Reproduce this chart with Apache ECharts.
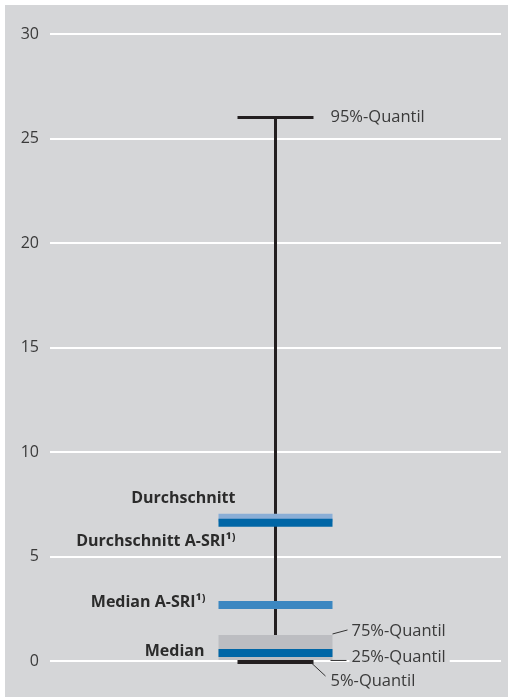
<!DOCTYPE html>
<html><head><meta charset="utf-8">
<script src="https://cdn.jsdelivr.net/npm/echarts@6/dist/echarts.min.js"></script>
<style>html,body{margin:0;padding:0;background:#fff}#c{width:508px;height:697px}</style>
</head><body><div id="c"></div>
<script>
const yTicks = [0, 5, 10, 15, 20, 25, 30];
const quantileLabels = ['5%-Quantil', '25%-Quantil', '75%-Quantil', '95%-Quantil'];
const quantileValues = [-0.05, 0.05, 1.245, 26.0];
const barLabels = ['Median', 'Median A-SRI¹⁾', 'Durchschnitt', 'Durchschnitt A-SRI¹⁾'];
const barValues = [0.38, 2.68, 6.85, 6.61];
const barColors = ['#0066a6', '#3b87c1', '#8aaed6', '#0066a6'];

const FONT = 'Open Sans';
const BG = '#d5d6d8';
const TXT = '#3a3a3a';

const chart = echarts.init(document.getElementById('c'), null, {renderer: 'canvas'});

function renderItem(params, api) {
  const cx = api.coord([0, 0])[0];
  const y = v => api.coord([0, v])[1];
  const [p5, p25, p75, p95] = quantileValues;
  const boxHalf = 57, capHalf = 38, barH = 8;
  const ch = [];
  ch.push({type: 'line', shape: {x1: cx, y1: y(p95), x2: cx, y2: y(p5)}, style: {stroke: '#231f20', lineWidth: 3}});
  ch.push({type: 'line', shape: {x1: cx - capHalf, y1: y(p95), x2: cx + capHalf, y2: y(p95)}, style: {stroke: '#231f20', lineWidth: 3}});
  ch.push({type: 'line', shape: {x1: cx - capHalf, y1: y(p5), x2: cx + capHalf, y2: y(p5)}, style: {stroke: '#231f20', lineWidth: 4}});
  ch.push({type: 'rect', shape: {x: cx - boxHalf, y: y(p75), width: boxHalf * 2, height: y(p25) - y(p75)}, style: {fill: '#bcbdc1'}});
  barValues.forEach((v, i) => {
    const yy = y(v);
    ch.push({type: 'rect', shape: {x: cx - boxHalf, y: yy - barH / 2, width: boxHalf * 2, height: barH}, style: {fill: barColors[i]}});
  });
  const leftOffsets = [[-71, -2], [-70, -3], [-40, -19], [-40, 19]];
  barLabels.forEach((t, i) => {
    const yy = y(barValues[i]);
    ch.push({type: 'text', style: {text: t, x: cx + leftOffsets[i][0], y: yy + leftOffsets[i][1], align: 'right', verticalAlign: 'middle', font: 'bold 16px "' + FONT + '"', fill: '#2b2b2b'}});
  });
  ch.push({type: 'text', style: {text: quantileLabels[3], x: cx + 55, y: y(p95), align: 'left', verticalAlign: 'middle', font: '16.5px "' + FONT + '"', fill: TXT}});
  ch.push({type: 'line', shape: {x1: cx + boxHalf, y1: y(p75) - 1, x2: cx + boxHalf + 15, y2: y(p75) - 5}, style: {stroke: '#333', lineWidth: 1}});
  ch.push({type: 'text', style: {text: quantileLabels[2], x: cx + 76, y: y(p75) - 4, align: 'left', verticalAlign: 'middle', font: '16.5px "' + FONT + '"', fill: TXT}});
  ch.push({type: 'line', shape: {x1: cx + boxHalf - 2, y1: y(p25) + 0.5, x2: cx + boxHalf + 14, y2: y(p25) + 0.5}, style: {stroke: '#333', lineWidth: 1}});
  ch.push({type: 'text', style: {text: quantileLabels[1], x: cx + 74, y: y(p25) - 3, align: 'left', verticalAlign: 'middle', font: '16.5px "' + FONT + '"', fill: TXT, backgroundColor: BG, padding: [0, 4, 0, 2]}});
  ch.push({type: 'line', shape: {x1: cx + capHalf - 2, y1: y(p5) + 1, x2: cx + 50, y2: y(p5) + 14}, style: {stroke: '#333', lineWidth: 1}});
  ch.push({type: 'text', style: {text: quantileLabels[0], x: cx + 55, y: y(p5) + 19, align: 'left', verticalAlign: 'middle', font: '16.5px "' + FONT + '"', fill: TXT}});
  return {type: 'group', children: ch};
}

chart.setOption({
  backgroundColor: '#ffffff',
  animation: false,
  graphic: [{type: 'rect', left: 5, top: 5, shape: {width: 503, height: 692}, style: {fill: BG}, z: -10, silent: true}],
  grid: {left: 50, right: 7, top: 34, bottom: 36},
  xAxis: {type: 'value', min: -1, max: 1, show: false},
  yAxis: {
    type: 'value', min: yTicks[0], max: yTicks[yTicks.length - 1], interval: 5,
    axisLine: {show: false}, axisTick: {show: false},
    axisLabel: {color: TXT, fontSize: 16, fontFamily: FONT, margin: 11},
    splitLine: {lineStyle: {color: '#ffffff', width: 2}}
  },
  series: [{
    type: 'custom',
    clip: false,
    renderItem: renderItem,
    data: [[0, 0]],
    z: 5
  }]
});
</script></body></html>
